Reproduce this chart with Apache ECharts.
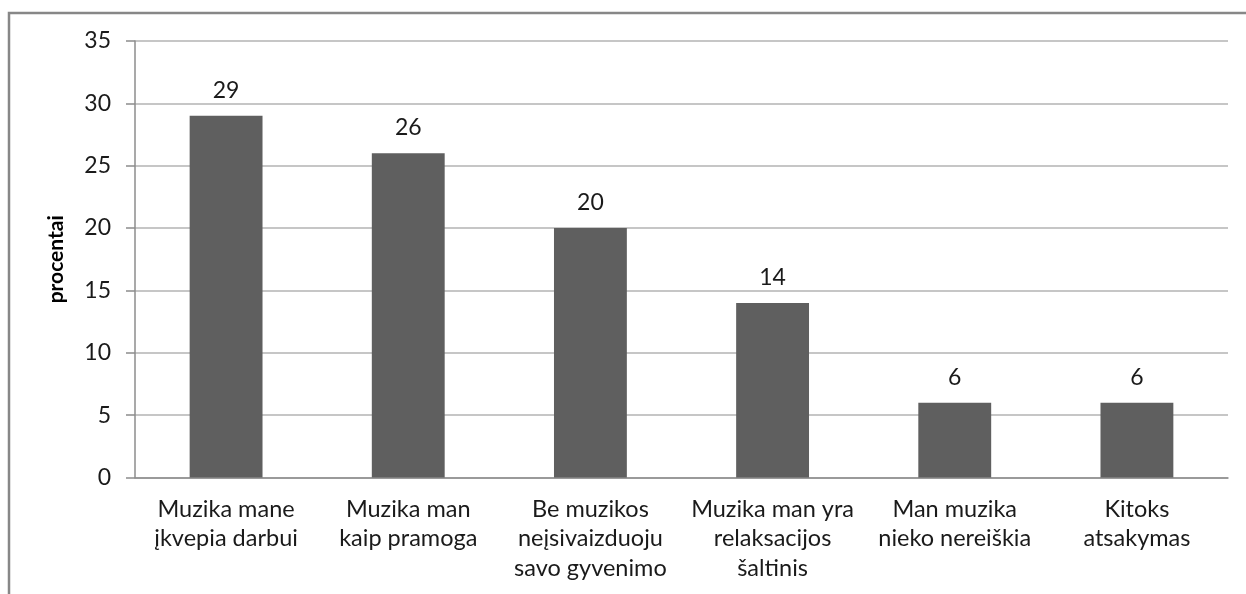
<!DOCTYPE html>
<html>
<head>
<meta charset="utf-8">
<script src="https://cdn.jsdelivr.net/npm/echarts@6/dist/echarts.min.js"></script>
<style>
html,body{margin:0;padding:0;background:#fff;}
#chart{width:1246px;height:594px;}
</style>
</head>
<body>
<div id="chart"></div>
<script>
const categories = [
  "Muzika mane\nįkvepia darbui",
  "Muzika man\nkaip pramoga",
  "Be muzikos\nneįsivaizduoju\nsavo gyvenimo",
  "Muzika man yra\nrelaksacijos\nšaltinis",
  "Man muzika\nnieko nereiškia",
  "Kitoks\natsakymas"
];
const values = [29, 26, 20, 14, 6, 6];
const yAxisName = "procentai";

const FONT = "Lato";
const chart = echarts.init(document.getElementById('chart'), null, {renderer: 'canvas'});
chart.setOption({
  backgroundColor: '#ffffff',
  animation: false,
  graphic: [{
    type: 'rect',
    shape: {x: 9, y: 13, width: 1300, height: 650},
    style: {fill: 'none', stroke: '#878787', lineWidth: 2.5},
    z: 100
  }],
  grid: {left: 135, right: 18, top: 41, bottom: 116.5, containLabel: false},
  xAxis: {
    type: 'category',
    data: categories,
    axisLine: {show: true, lineStyle: {color: '#8c8c8c', width: 1.5}},
    axisTick: {show: false},
    axisLabel: {
      interval: 0,
      color: '#1a1a1a',
      fontFamily: FONT,
      fontSize: 23.5,
      lineHeight: 29.5,
      margin: 17
    }
  },
  yAxis: {
    type: 'value',
    min: 0, max: 35, interval: 5,
    name: yAxisName,
    nameLocation: 'middle',
    nameGap: 68,
    nameRotate: 90,
    nameTextStyle: {color: '#000', fontFamily: FONT, fontWeight: 'bold', fontSize: 21},
    axisLine: {show: true, lineStyle: {color: '#8c8c8c', width: 1.5}},
    axisTick: {show: true, inside: false, length: 9, lineStyle: {color: '#8c8c8c', width: 1.5}},
    axisLabel: {color: '#1a1a1a', fontFamily: FONT, fontSize: 23, margin: 24},
    splitLine: {show: true, lineStyle: {color: '#b3b3b3', width: 1.5}}
  },
  series: [{
    type: 'bar',
    data: values,
    barWidth: '40%',
    itemStyle: {color: '#5f5f5f'},
    label: {
      show: true,
      position: 'top',
      distance: 14,
      color: '#1a1a1a',
      fontFamily: FONT,
      fontSize: 23
    }
  }]
});
</script>
</body>
</html>
